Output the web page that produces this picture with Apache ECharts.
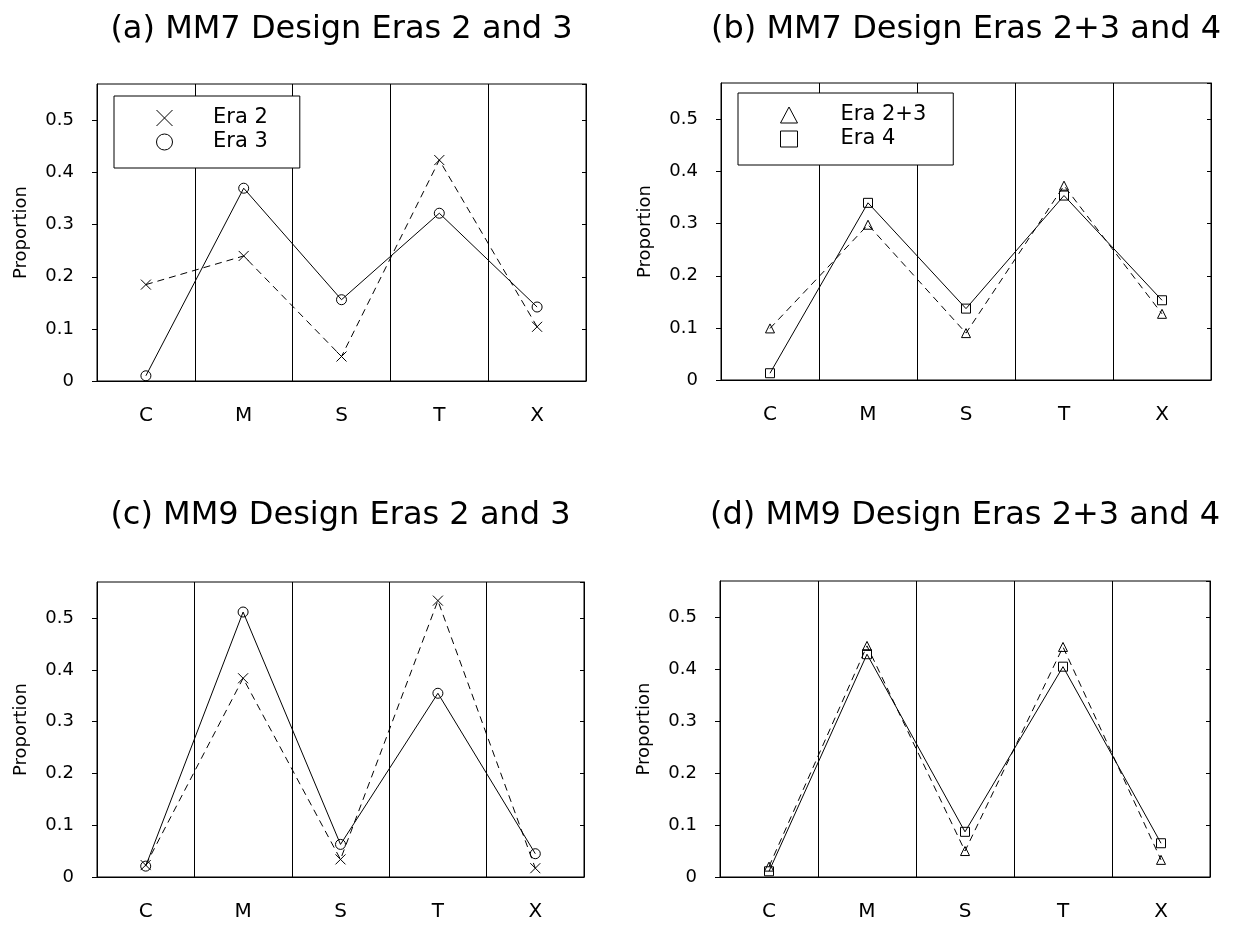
<!DOCTYPE html>
<html>
<head>
<meta charset="utf-8">
<script src="https://cdn.jsdelivr.net/npm/echarts@6/dist/echarts.min.js"></script>
<style>
  html, body { margin: 0; padding: 0; background: #fff; }
  #chart { width: 1235px; height: 926px; }
</style>
</head>
<body>
<div id="chart"></div>
<script>
// Class proportions by design era, MM7 and MM9
const categories = ['C', 'M', 'S', 'T', 'X'];

const mm7Era2  = [0.185, 0.240, 0.047, 0.424, 0.104];
const mm7Era3  = [0.010, 0.370, 0.156, 0.322, 0.142];
const mm7Era23 = [0.099, 0.298, 0.090, 0.373, 0.127];
const mm7Era4  = [0.013, 0.340, 0.137, 0.354, 0.153];

const mm9Era2  = [0.023, 0.384, 0.034, 0.534, 0.017];
const mm9Era3  = [0.021, 0.512, 0.063, 0.355, 0.045];
const mm9Era23 = [0.020, 0.445, 0.050, 0.443, 0.033];
const mm9Era4  = [0.011, 0.429, 0.087, 0.405, 0.065];

const yTickLabels = ['0', '0.1', '0.2', '0.3', '0.4', '0.5'];

const panelTitles = [
  '(a) MM7 Design Eras 2 and 3',
  '(b) MM7 Design Eras 2+3 and 4',
  '(c) MM9 Design Eras 2 and 3',
  '(d) MM9 Design Eras 2+3 and 4'
];

const FONT = 'DejaVu Sans';
const INK = '#000';
const CROSS = 'path://M0,0L10,10M10,0L0,10';

const grids = [
  { left: 97,  top: 84,  width: 489, height: 297 },
  { left: 721, top: 83,  width: 490, height: 297 },
  { left: 97,  top: 582, width: 487, height: 295 },
  { left: 720, top: 581, width: 490, height: 296 }
];

// each title is centred over its plot box
const titleMidY = [30, 30, 516, 516];

const markerStyle = { color: 'rgba(0,0,0,0)', borderColor: INK, borderWidth: 1 };

function makeSeries(name, data, gi, symbol, size, dashed) {
  return {
    type: 'line',
    name: name,
    data: data,
    xAxisIndex: gi,
    yAxisIndex: gi * 2,
    symbol: symbol,
    symbolSize: size,
    showAllSymbol: true,
    itemStyle: markerStyle,
    lineStyle: { color: INK, width: 1, type: dashed ? [7, 5] : 'solid' },
    emphasis: { disabled: true },
    z: dashed ? 3 : 4
  };
}

const yFmt = v => {
  const i = Math.round(v * 10);
  return Math.abs(v * 10 - i) < 1e-6 ? yTickLabels[i] : '';
};

const xAxes = grids.map((g, i) => ({
  type: 'category',
  gridIndex: i,
  data: categories,
  boundaryGap: true,
  axisLine: { show: true, lineStyle: { color: INK, width: 1 } },
  axisTick: { show: false },
  axisLabel: { color: INK, fontFamily: FONT, fontSize: 20, margin: 25, interval: 0 },
  splitLine: { show: true, interval: 0, lineStyle: { color: INK, width: 1 } }
}));

const yAxes = [];
grids.forEach((g, i) => {
  yAxes.push({
    type: 'value',
    gridIndex: i,
    position: 'left',
    min: 0,
    max: 0.57,
    interval: 0.1,
    name: 'Proportion',
    nameLocation: 'middle',
    nameRotate: 90,
    nameGap: 67,
    nameTextStyle: { color: INK, fontFamily: FONT, fontSize: 18 },
    axisLine: { show: true, lineStyle: { color: INK, width: 1 } },
    axisTick: { show: true, length: 5, lineStyle: { color: INK } },
    axisLabel: { color: INK, fontFamily: FONT, fontSize: 18, margin: 23, formatter: yFmt, showMaxLabel: false },
    splitLine: { show: false }
  });
  yAxes.push({
    type: 'value',
    gridIndex: i,
    position: 'right',
    min: 0,
    max: 0.57,
    interval: 0.1,
    axisLine: { show: true, lineStyle: { color: INK, width: 1 } },
    axisTick: { show: true, inside: true, length: 4, lineStyle: { color: INK } },
    axisLabel: { show: false },
    splitLine: { show: false }
  });
});

const legendBase = {
  orient: 'vertical',
  backgroundColor: '#fff',
  borderColor: INK,
  borderWidth: 1,
  borderRadius: 0,
  itemWidth: 17,
  itemHeight: 16,
  itemGap: 0,
  selectedMode: false,
  itemStyle: { color: 'rgba(0,0,0,0)', borderColor: INK, borderWidth: 1 },
  inactiveColor: INK
};

const option = {
  animation: false,
  backgroundColor: '#fff',
  title: panelTitles.map((t, i) => ({
    text: t,
    left: grids[i].left + grids[i].width / 2,
    top: titleMidY[i],
    padding: 0,
    textAlign: 'center',
    textVerticalAlign: 'middle',
    textStyle: { color: INK, fontFamily: FONT, fontSize: 32, fontWeight: 'normal' }
  })),
  legend: [
    Object.assign({}, legendBase, {
      left: 114, top: 96,
      padding: [10, 32, 14, 42],
      data: [
        { name: 'Era 2', icon: CROSS },
        { name: 'Era 3', icon: 'circle' }
      ],
      textStyle: { color: INK, fontFamily: FONT, fontSize: 21, lineHeight: 24, padding: [0, 0, 0, 35] }
    }),
    Object.assign({}, legendBase, {
      left: 738, top: 93,
      padding: [10, 27, 14, 42],
      data: [
        { name: 'Era 2+3', icon: 'triangle' },
        { name: 'Era 4', icon: 'rect' }
      ],
      textStyle: { color: INK, fontFamily: FONT, fontSize: 21, lineHeight: 24, padding: [0, 0, 0, 38] }
    })
  ],
  grid: grids.map(g => Object.assign({ show: true, borderColor: INK, borderWidth: 1, backgroundColor: 'rgba(0,0,0,0)', containLabel: false }, g)),
  xAxis: xAxes,
  yAxis: yAxes,
  series: [
    makeSeries('Era 2', mm7Era2, 0, CROSS, 10, true),
    makeSeries('Era 3', mm7Era3, 0, 'circle', 10, false),
    makeSeries('Era 2+3', mm7Era23, 1, 'triangle', 9, true),
    makeSeries('Era 4', mm7Era4, 1, 'rect', 9, false),
    makeSeries('Era 2', mm9Era2, 2, CROSS, 10, true),
    makeSeries('Era 3', mm9Era3, 2, 'circle', 10, false),
    makeSeries('Era 2+3', mm9Era23, 3, 'triangle', 9, true),
    makeSeries('Era 4', mm9Era4, 3, 'rect', 9, false)
  ]
};

const chart = echarts.init(document.getElementById('chart'), null, { renderer: 'canvas' });
chart.setOption(option);
</script>
</body>
</html>
